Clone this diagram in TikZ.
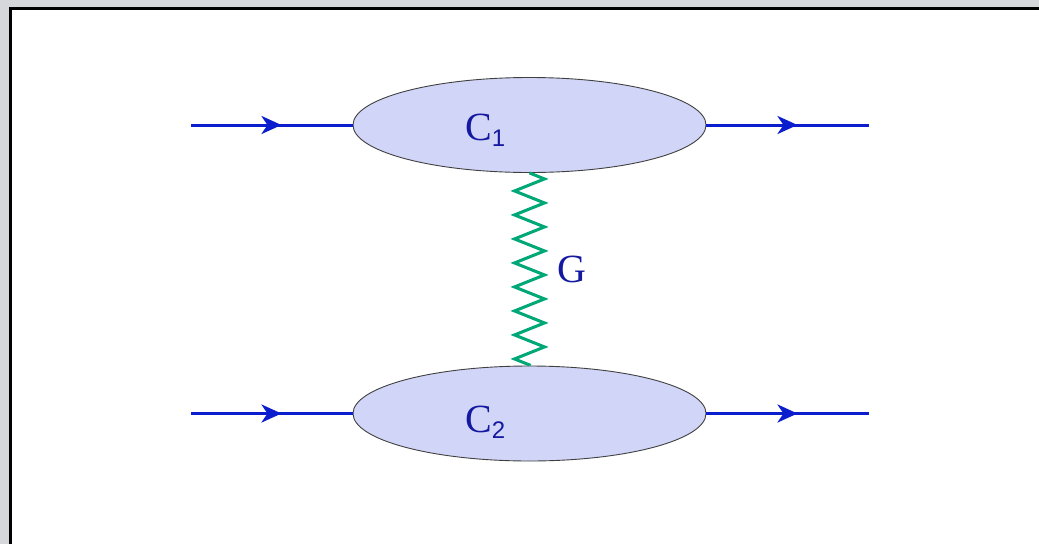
\documentclass[tikz,border=0pt]{standalone}
\usepackage{fontspec}
\setmainfont{Liberation Serif}
\newfontfamily\subfont{Liberation Sans}
\usetikzlibrary{arrows.meta,decorations.markings,decorations.pathmorphing,shapes.geometric}
\definecolor{bggray}{RGB}{214,215,219}
\definecolor{blobfill}{RGB}{209,213,247}
\definecolor{txtblue}{RGB}{20,25,160}
\definecolor{lineblue}{RGB}{10,30,205}
\definecolor{gluon}{RGB}{0,168,120}
\tikzset{
  blob/.style={ellipse,draw=black!75,line width=0.9pt,fill=blobfill,minimum width=353pt,minimum height=95pt,inner sep=0pt},
  fermion/.style={draw=lineblue,line width=3pt,postaction={decorate},
    decoration={markings,mark=at position 0.56 with {\arrow{Stealth[length=20pt,width=18pt,inset=6pt]}}}},
  zig/.style={draw=gluon,line width=3pt,line join=miter,decorate,
    decoration={zigzag,segment length=24pt,amplitude=15pt}},
  lbl/.style={text=txtblue,anchor=base west,inner sep=0pt,font=\fontsize{40}{42}\selectfont}
}
\begin{document}
\begin{tikzpicture}[x=1pt,y=-1pt]
\useasboundingbox (0,0) rectangle (1039,544);
\fill[bggray] (0,0) rectangle (1039,544);
\fill[white] (10,8) rectangle (1039,544);
\draw[black,line width=3pt] (10.5,544) -- (10.5,8.5) -- (1039,8.5);
% blobs
\node[blob] (C1) at (529.5,125) {};
\node[blob] (C2) at (529.5,413.5) {};
% external lines
\coordinate (in1) at (191,125);
\coordinate (out1) at (869,125);
\coordinate (in2) at (191,413.5);
\coordinate (out2) at (869,413.5);
\draw[fermion] (in1) -- (C1.west);
\draw[fermion] (C1.east) -- (out1);
\draw[fermion] (in2) -- (C2.west);
\draw[fermion] (C2.east) -- (out2);
% gluon
\draw[zig] (C1.south) -- (C2.north);
% labels
\node[lbl] (l1) at (465,140) {C\raisebox{-6pt}{\subfont\fontsize{24}{26}\selectfont 1}};
\node[lbl] (l2) at (465,432) {C\raisebox{-6pt}{\subfont\fontsize{24}{26}\selectfont 2}};
\node[lbl] (lg) at (557,282) {G};
\end{tikzpicture}
\end{document}
